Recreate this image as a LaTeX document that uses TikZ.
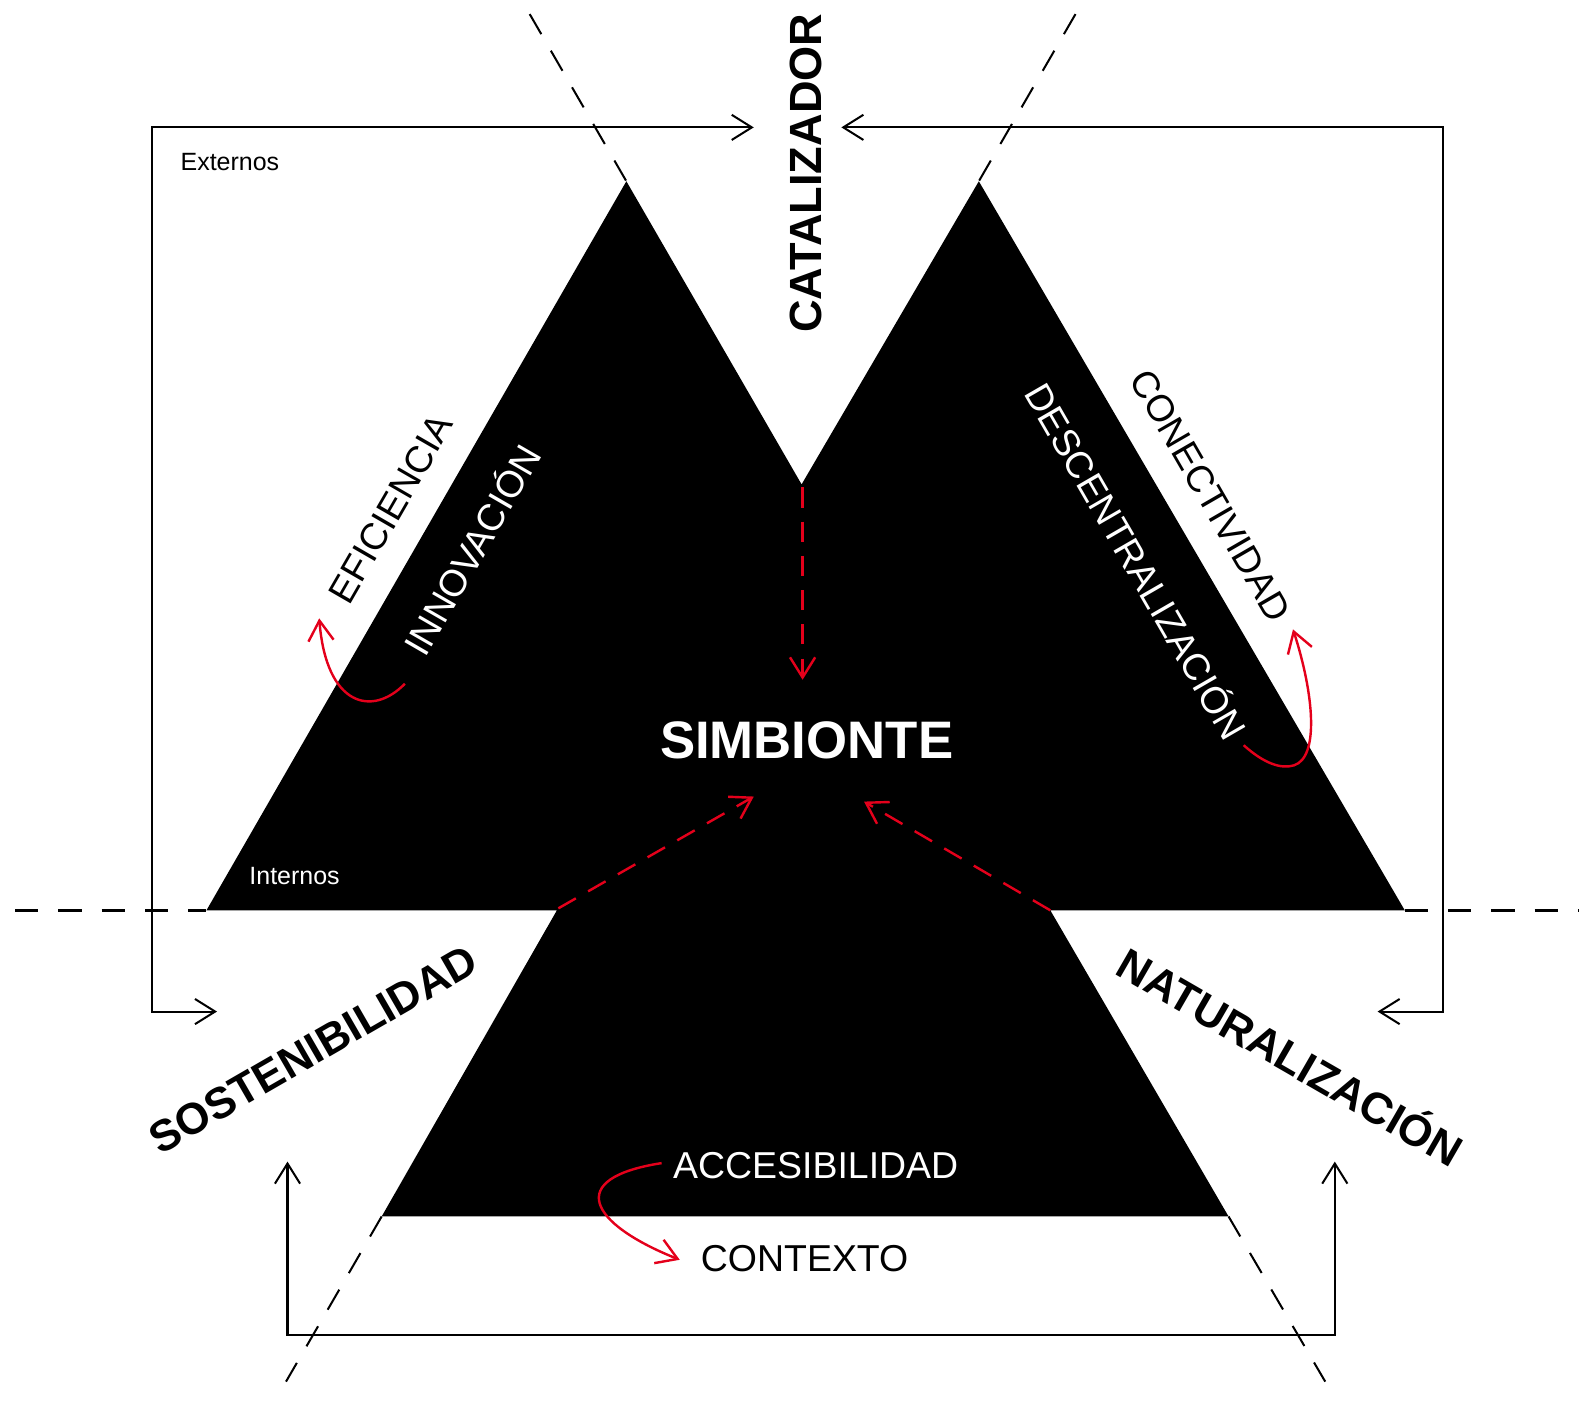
\documentclass[tikz,border=0pt]{standalone}
\usepackage{fontspec}
\setmainfont{Liberation Sans}
\usetikzlibrary{arrows.meta}
\definecolor{arred}{RGB}{228,0,27}
\tikzset{
  lbl/.style={font=\fontsize{18.6}{20}\selectfont, inner sep=0pt},
  smalllbl/.style={font=\fontsize{12.4}{14}\selectfont, inner sep=0pt},
  titlelbl/.style={font=\fontsize{21.8}{24}\selectfont\bfseries, inner sep=0pt},
  biglbl/.style={font=\fontsize{26.2}{28}\selectfont\bfseries, inner sep=0pt},
  guide/.style={draw=black, line width=1pt, dash pattern=on 11.5pt off 9.5pt},
  baseguide/.style={draw=black, line width=1.4pt, dash pattern=on 11.5pt off 10pt},
  loop/.style={draw=black, line width=1pt, {Straight Barb[length=10pt,width=12.5pt]}-{Straight Barb[length=10pt,width=12.5pt]}},
  redflow/.style={draw=arred, line width=1.2pt, dash pattern=on 10pt off 7pt, -{Straight Barb[length=10pt,width=12.5pt]}},
  redcurve/.style={draw=arred, line width=1.2pt, -{Straight Barb[length=10pt,width=12.5pt]}}
}
\begin{document}
\begin{tikzpicture}[x=0.5pt,y=-0.5pt]
\useasboundingbox (0,0) rectangle (1568,1391);

% key points of the three triangles
\coordinate (LA) at (622,180);
\coordinate (RA) at (972,180);
\coordinate (V) at (796,481);
\coordinate (LB) at (205,904);
\coordinate (RB) at (1395,904);
\coordinate (LBi) at (553,904);
\coordinate (RBi) at (1043,904);
\coordinate (BL) at (379,1208);
\coordinate (BR) at (1220,1208);

% guide lines (only the parts outside the shape)
\coordinate (g1a) at (526,14);
\coordinate (g1b) at (1316,1372);
\coordinate (g2a) at (1068,14);
\coordinate (g2b) at (284,1372);
\coordinate (h1) at (15,904);
\coordinate (h2) at (1568,904);
\draw[guide] (g1a) -- (LA);
\draw[guide] (BR) -- (g1b);
\draw[guide] (g2a) -- (RA);
\draw[guide] (BL) -- (g2b);
\draw[baseguide] (h1) -- (LB);
\draw[baseguide] (RB) -- (h2);

% black shape
\fill[black] (LB) -- (LA) -- (V) -- (RA) -- (RB) -- (RBi) -- (BR) -- (BL) -- (LBi) -- cycle;

% frame arrows
\coordinate (ltop) at (748.5,126.5);
\coordinate (lc1) at (150.5,126.5);
\coordinate (lc2) at (150.5,1004.5);
\coordinate (lbot) at (215.5,1004.5);
\draw[loop] (ltop) -- (lc1) -- (lc2) -- (lbot);

\coordinate (rtop) at (835.5,126.5);
\coordinate (rc1) at (1433,126.5);
\coordinate (rc2) at (1433,1004.5);
\coordinate (rbot) at (1368,1004.5);
\draw[loop] (rtop) -- (rc1) -- (rc2) -- (rbot);

\coordinate (bl1) at (285.5,1153.5);
\coordinate (bc1) at (285.5,1325.5);
\coordinate (bc2) at (1325.5,1325.5);
\coordinate (br1) at (1325.5,1153.5);
\draw[loop] (bl1) -- (bc1) -- (bc2) -- (br1);

% texts
\node[titlelbl, font=\fontsize{22.4}{24}\selectfont\bfseries, rotate=90] (cat) at (800,172) {CATALIZADOR};
\node[smalllbl, anchor=base west] (ext) at (179,169.5) {Externos};
\node[smalllbl, text=white] (int) at (292.5,870) {Internos};
\node[lbl, rotate=60] (efi) at (388,505) {EFICIENCIA};
\node[lbl, text=white, rotate=60] (inn) at (467,545) {INNOVACIÓN};
\node[lbl, rotate=-60] (con) at (1202,492) {CONECTIVIDAD};
\node[lbl, text=white, rotate=-60] (des) at (1130,556) {DESCENTRALIZACIÓN};
\node[biglbl, text=white] (sim) at (801,735) {SIMBIONTE};
\node[titlelbl, rotate=30] (sos) at (311,1042) {SOSTENIBILIDAD};
\node[titlelbl, rotate=-30] (nat) at (1283,1047) {NATURALIZACIÓN};
\node[lbl, text=white] (acc) at (810,1157) {ACCESIBILIDAD};
\node[lbl] (ctx) at (799,1250) {CONTEXTO};

% red dashed flows toward SIMBIONTE
\coordinate (vt) at (797,484);
\coordinate (vb) at (797,675);
\draw[redflow] (vt) -- (vb);
\coordinate (dl1) at (554.5,902);
\coordinate (dl2) at (748.5,791);
\draw[redflow] (dl1) -- (dl2);
\coordinate (dr1) at (1043,904);
\coordinate (dr2) at (858,796);
\draw[redflow] (dr1) -- (dr2);

% red curved arrows
\coordinate (c1s) at (402,679);
\coordinate (c1e) at (317,614);
\draw[redcurve] (c1s) .. controls (370,712) and (324,702) .. (c1e);

\coordinate (c2s) at (1235,740);
\coordinate (c2m) at (1285,760);
\coordinate (c2e) at (1284,625);
\draw[redcurve] (c2s) .. controls (1255,758) and (1272,764) .. (c2m) .. controls (1310,752) and (1305,690) .. (c2e);

\coordinate (c3s) at (657,1155);
\coordinate (c3e) at (675,1251);
\draw[redcurve] (c3s) .. controls (560,1170) and (585,1215) .. (c3e);
\end{tikzpicture}
\end{document}
